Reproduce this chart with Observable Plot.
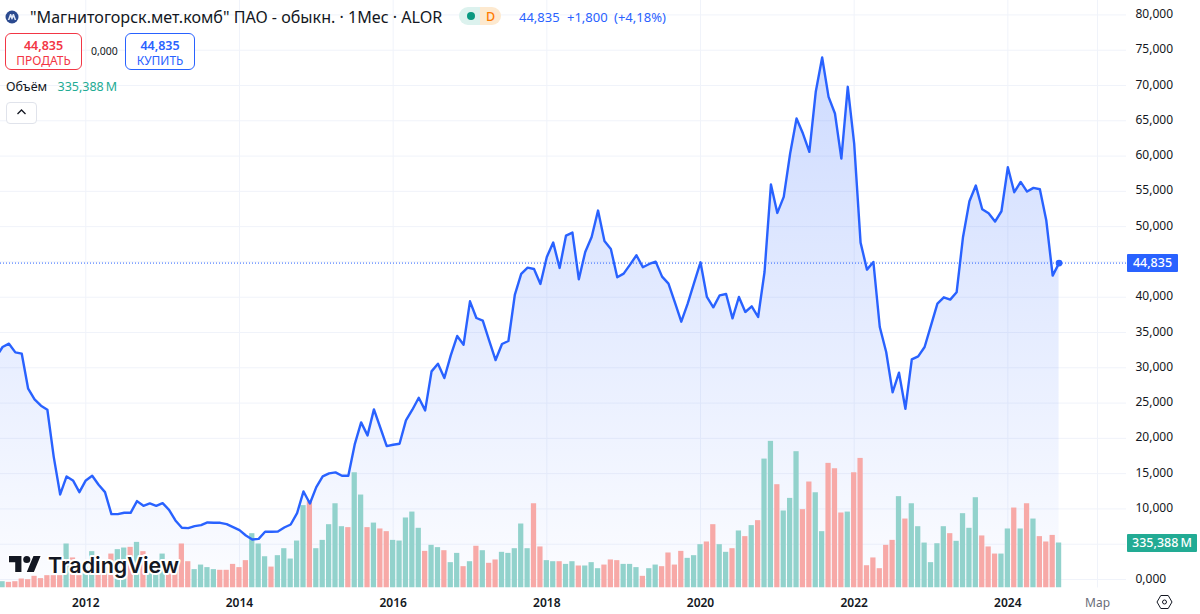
<!DOCTYPE html>
<html lang="ru">
<head>
<meta charset="utf-8">
<script src="https://cdn.jsdelivr.net/npm/d3@7"></script>
<script src="https://cdn.jsdelivr.net/npm/@observablehq/plot@0.6"></script>
<style>
html,body{margin:0;padding:0;background:#fff;width:1200px;height:614px;overflow:hidden}
#wrap{position:relative;width:1200px;height:614px;font-family:"Noto Sans",sans-serif;color:#131722}
#wrap svg.plot{position:absolute;left:0;top:0}
.o{position:absolute;white-space:nowrap;line-height:1}
.box{position:absolute;box-sizing:border-box;border:1px solid;border-radius:6px;text-align:center;background:rgba(255,255,255,.9)}
.box b{display:block;font-size:12.5px;font-weight:600;line-height:14px;margin-top:5px}
.box span{display:block;font-size:12px;line-height:15px}
.tag{position:absolute;color:#fff;font-size:12.5px;font-weight:500;text-align:center;border-radius:1px;height:18px;line-height:18px}
</style>
</head>
<body>
<div id="wrap"></div>
<script>
// monthly closes, starting from Nov 2010
const closes = [31500,32944,33417,32188,32000,27036,25523,24625,24058,17345,12050,14603,14036,12381,14036,14698,13422,12381,9262,9262,9451,9451,11105,10444,10775,10444,10822,9876,8364,7324,7277,7560,7702,8080,8033,8033,7844,7419,6993,6237,5670,5764,6757,6757,6804,7371,7797,9404,12476,10775,13091,14603,15029,15171,14698,14698,19141,22261,20418,24105,21505,18905,19094,19236,
22544,24056,25758,23962,29492,30580,28547,31761,34503,33274,39419,37055,36677,33841,31100,33368,33794,40317,43295,44193,44004,41877,45706,47739,44146,48731,49157,42539,46415,48542,52277,47975,46841,42822,43343,44619,45942,44241,44713,45044,42917,41924,39277,36536,39088,42019,44950,40033,38568,40270,40459,37008,40033,37905,38708,37196,43577,55962,51944,54213,60358,65322,63194,60595,69103,73972,68394,66031,59649,69812,61776,47737,43908,44995,35778,32232,26512,29302,24197,31192,31618,32942,36014,39087,39984,39654,40694,48541,53599,55820,52464,51897,50715,52180,58420,54875,56340,54969,55489,55300,50904,43057,44835];
// monthly volume, millions
const volumes = [40,47,42,47,67,62,87,70,92,92,92,328,224,92,154,271,154,154,253,286,298,303,340,271,179,154,253,154,154,328,196,137,171,152,137,132,132,176,152,204,405,328,233,156,241,293,216,350,614,643,293,355,472,628,457,450,859,693,450,484,440,420,355,350,
522,566,445,273,318,301,278,189,258,159,196,311,278,184,209,266,258,293,477,293,628,306,204,196,196,176,196,164,164,189,144,171,209,204,176,176,152,87,144,171,159,261,171,273,221,241,323,343,472,323,266,293,425,383,465,502,961,1093,770,574,668,1016,584,790,710,420,929,889,559,566,859,966,166,224,144,318,355,681,514,628,457,335,189,330,457,405,348,554,445,673,388,306,253,253,440,596,440,628,514,383,343,392,335.388];
// month direction: 1 green, 0 red
const directions = [0,1,0,0,0,0,0,0,0,0,0,1,0,0,1,1,0,0,0,1,1,0,1,0,1,1,1,0,0,0,0,1,1,1,1,0,0,0,0,0,1,1,1,0,1,1,1,1,1,0,1,1,1,1,1,0,1,1,0,1,0,0,1,1,
1,1,1,0,1,1,0,1,1,0,1,0,1,0,0,1,1,1,1,1,0,0,1,1,0,1,1,0,1,1,1,0,0,0,1,1,1,0,1,1,0,0,0,0,1,1,1,0,0,1,1,0,1,0,1,0,1,1,0,1,1,1,0,0,1,1,0,0,0,1,0,0,0,0,0,0,0,1,0,1,1,1,1,1,1,0,1,1,1,1,0,0,0,1,1,0,1,0,1,0,0,0,1];
const yTicks = [0,5000,10000,15000,20000,25000,30000,35000,40000,45000,50000,55000,60000,65000,70000,75000,80000];
const yLabelTicks = [0,10000,15000,20000,25000,30000,35000,40000,50000,55000,60000,65000,70000,75000,80000];
const yearIdx = [14,38,62,86,110,134,158];
const yearLabels = ["2012","2014","2016","2018","2020","2022","2024"];
const monthIdx = [172];
const monthLabels = ["Мар"];
const lastClose = 44835;
const paneFloor = -1205;
const volumeToPrice = 19.01;

const rows = closes.map((c,i)=>({i,c,v:volumes[i],up:directions[i]}));
const fmtY = v => d3.format(".3f")(v/1000).replace(".",",");

const gradient = () => {
  const ns="http://www.w3.org/2000/svg";
  const defs=document.createElementNS(ns,"defs");
  defs.innerHTML='<linearGradient id="areaGrad" x1="0" y1="0" x2="0" y2="1"><stop offset="0" stop-color="#2962ff" stop-opacity="0.23"/><stop offset="1" stop-color="#2962ff" stop-opacity="0.015"/></linearGradient>';
  return defs;
};

const chart = Plot.plot({
  width:1200,height:614,marginLeft:0,marginRight:74,marginTop:0,marginBottom:26.5,
  style:{background:"transparent",fontFamily:"'Noto Sans',sans-serif",overflow:"visible"},
  x:{type:"linear",domain:[0.68,176.53]},
  y:{domain:[paneFloor,82044]},
  marks:[
    gradient,
    Plot.gridY(yTicks,{stroke:"#f0f3fa",strokeOpacity:1,strokeWidth:1}),
    Plot.gridX(yearIdx.concat(monthIdx),{stroke:"#f0f3fa",strokeOpacity:1,strokeWidth:1}),
    Plot.areaY(rows,{x:"i",y1:paneFloor,y2:"c",fill:"url(#areaGrad)",clip:true}),
    Plot.rect(rows,{x1:d=>d.i-0.41,x2:d=>d.i+0.41,y1:paneFloor,y2:d=>paneFloor+d.v*volumeToPrice,fill:d=>d.up?"#92d2cc":"#f7a9a7",clip:true}),
    Plot.ruleY([lastClose],{stroke:"#2962ff",strokeWidth:1,strokeDasharray:"1 2"}),
    Plot.lineY(rows,{x:"i",y:"c",stroke:"#2962ff",strokeWidth:2.4,strokeLinejoin:"round",clip:true}),
    Plot.dot([rows[rows.length-1]],{x:"i",y:"c",r:3.4,fill:"#2962ff"}),
    Plot.axisY({anchor:"right",ticks:yLabelTicks,tickFormat:fmtY,tickSize:0,tickPadding:9,label:null,fontSize:12,fill:"#131722",dy:-0.8}),
    Plot.axisX({ticks:yearIdx,tickFormat:i=>yearLabels[yearIdx.indexOf(i)],tickSize:0,tickPadding:10,label:null,fontSize:12,fontWeight:600,fill:"#131722"}),
    Plot.axisX({ticks:monthIdx,tickFormat:i=>monthLabels[monthIdx.indexOf(i)],tickSize:0,tickPadding:10,label:null,fontSize:12,fill:"#6a6d78"})
  ]
});
const wrap=document.getElementById("wrap");
wrap.appendChild(chart);

const overlay = document.createElement("div");
overlay.innerHTML = `
<svg class="o" style="left:5px;top:10px" width="14" height="14" viewBox="0 0 14 14"><circle cx="7" cy="7" r="6.5" fill="#2b4a8f"/><path d="M2.8 10 5 4h1.2L7 6l.8-2H9l2.2 6H9.6L8.6 7 7 10 5.4 7l-1 3z" fill="#dfe6f5"/></svg>
<div class="o" style="left:30px;top:9px;font-size:16.1px">"Магнитогорск.мет.комб" ПАО - обыкн. · 1Мес · ALOR</div>
<div class="o" style="left:459px;top:7px;width:21px;height:18px;background:#dcf2ee;border-radius:9px 0 0 9px"></div>
<div class="o" style="left:480px;top:7px;width:21px;height:18px;background:#fde9cf;border-radius:0 9px 9px 0"></div>
<div class="o" style="left:466.5px;top:12px;width:8px;height:8px;border-radius:50%;background:#089981"></div>
<div class="o" style="left:486px;top:10.5px;font-size:12.5px;color:#ff7a00;font-weight:500">D</div>
<div class="o" style="left:519px;top:10.5px;font-size:13px;color:#2962ff">44,835</div>
<div class="o" style="left:567px;top:10.5px;font-size:13px;color:#2962ff">+1,800</div>
<div class="o" style="left:614px;top:10.5px;font-size:13px;color:#2962ff">(+4,18%)</div>
<div class="box" style="left:5px;top:33px;width:77px;height:37px;border-color:#f23645;color:#f23645"><b>44,835</b><span>ПРОДАТЬ</span></div>
<div class="o" style="left:91px;top:46px;font-size:10.5px">0,000</div>
<div class="box" style="left:125px;top:33px;width:70px;height:37px;border-color:#2962ff;color:#2962ff"><b>44,835</b><span>КУПИТЬ</span></div>
<div class="o" style="left:6px;top:81px;font-size:12.5px">Объём</div>
<div class="o" style="left:57.5px;top:81px;font-size:12.5px;color:#22ab94">335,388&#8201;M</div>
<div class="o" style="left:6px;top:102px;width:31px;height:22px;box-sizing:border-box;border:1px solid #e0e3eb;border-radius:4px;background:#fff"></div>
<svg class="o" style="left:16px;top:108px" width="11" height="8" viewBox="0 0 11 8"><path d="M1.5 6 5.5 2l4 4" fill="none" stroke="#131722" stroke-width="1.3"/></svg>
<svg class="o" style="left:9px;top:556px;overflow:visible" width="32" height="16" viewBox="0 4 36 18"><path d="M14 22H7V11H0V4h14v18zM28 22h-8l7.5-18h8L28 22z" fill="#131722" stroke="#fff" stroke-width="3" paint-order="stroke"/><circle cx="20" cy="8" r="4" fill="#131722"/></svg>
<svg class="o" style="left:46px;top:548px;overflow:visible" width="140" height="32"><text x="2" y="24.5" font-family="Inter,'Noto Sans',sans-serif" font-size="21.5" font-weight="600" fill="#131722" stroke="#fff" stroke-width="4" paint-order="stroke" stroke-linejoin="round">TradingView</text></svg>
<div class="tag" style="left:1127px;top:254px;width:51px;background:#2962ff">44,835</div>
<div class="tag" style="left:1127px;top:534px;width:70px;background:#22ab94">335,388&#8201;M</div>
<svg class="o" style="left:1156px;top:594px" width="17" height="16" viewBox="0 0 17 16"><path d="M1 8 4.8 1.5h7.4L16 8l-3.8 6.5H4.8z" fill="none" stroke="#131722" stroke-width="1"/><circle cx="8.5" cy="8" r="2" fill="none" stroke="#131722" stroke-width="1"/></svg>
`;
while(overlay.firstElementChild) wrap.appendChild(overlay.firstElementChild);
</script>
</body>
</html>
